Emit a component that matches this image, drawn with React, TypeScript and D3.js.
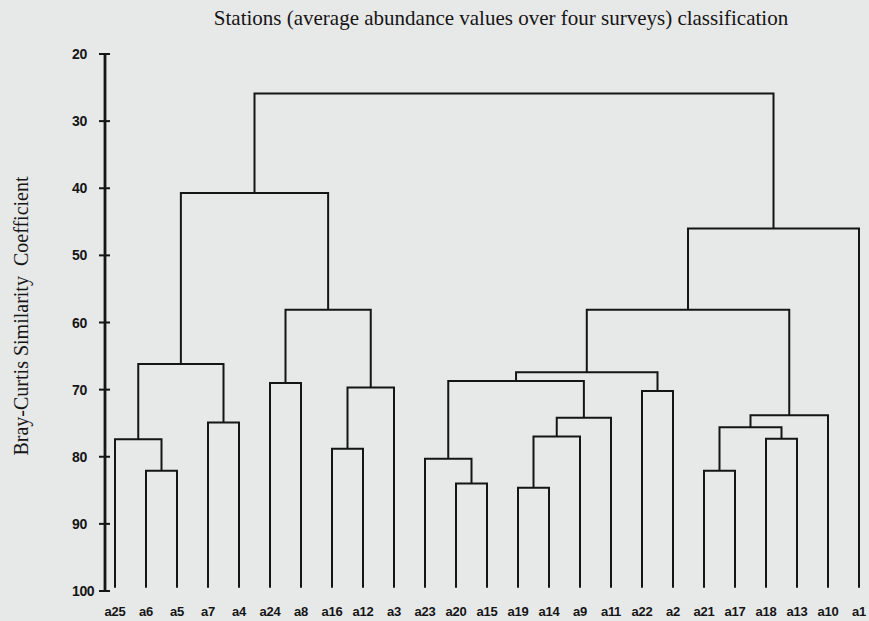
import React from "react";
import * as d3 from "d3";

// Stations in dendrogram (leaf) order
const stations = [
  "a25", "a6", "a5", "a7", "a4", "a24", "a8", "a16", "a12", "a3",
  "a23", "a20", "a15", "a19", "a14", "a9", "a11", "a22", "a2",
  "a21", "a17", "a18", "a13", "a10", "a1",
];

// Agglomeration steps: [left member, right member, similarity %]
// Members are station names or earlier cluster ids (c1, c2, ...)
const mergeLeft = [
  "a6", "a25", "a7", "c2", "a24", "a16", "c6", "c5", "c4",
  "a20", "a23", "a19", "c12", "c13", "c11", "a22", "c15",
  "a21", "a18", "c18", "c20", "c17", "c22", "c9",
];
const mergeRight = [
  "a5", "c1", "a4", "c3", "a8", "a12", "a3", "c7", "c8",
  "a15", "c10", "a14", "a9", "a11", "c14", "a2", "c16",
  "a17", "a13", "c19", "a10", "c21", "a1", "c23",
];
const mergeSimilarity = [
  82.1, 77.4, 74.9, 66.2, 69.0, 78.8, 69.7, 58.1, 40.7,
  84.0, 80.3, 84.6, 77.0, 74.2, 68.7, 70.2, 67.4,
  82.1, 77.3, 75.6, 73.8, 58.1, 46.0, 25.9,
];

const yTicks = [20, 30, 40, 50, 60, 70, 80, 90, 100];
const leafBase = 99.5;

const title = "Stations (average abundance values over four surveys) classification";
const yTitle = "Bray-Curtis Similarity  Coefficient";

const W = 869;
const H = 621;

export default function App() {
  const x = d3.scalePoint<string>().domain(stations).range([115, 859]);
  const y = d3.scaleLinear().domain([20, 100]).range([54, 591]);

  // Resolve each cluster to its horizontal centre and height
  const nodes: Record<string, { cx: number; h: number }> = {};
  stations.forEach((s) => (nodes[s] = { cx: x(s) as number, h: leafBase }));

  const links: string[] = [];
  mergeSimilarity.forEach((sim, i) => {
    const a = nodes[mergeLeft[i]];
    const b = nodes[mergeRight[i]];
    const yy = y(sim);
    const p = d3.path();
    p.moveTo(a.cx, y(a.h));
    p.lineTo(a.cx, yy);
    p.lineTo(b.cx, yy);
    p.lineTo(b.cx, y(b.h));
    links.push(p.toString());
    nodes["c" + (i + 1)] = { cx: (a.cx + b.cx) / 2, h: sim };
  });

  const axisX = 105;
  const sans = "'Liberation Sans', Arial, sans-serif";
  const serif = "'Liberation Serif', 'Times New Roman', serif";
  const ink = "#151515";

  return (
    <svg
      width={W}
      height={H}
      viewBox={`0 0 ${W} ${H}`}
      style={{ position: "fixed", left: 0, top: 0, display: "block" }}
    >
      <rect x={0} y={0} width={W} height={H} fill="#e7e8e8" />

      <text
        x={501}
        y={25}
        textAnchor="middle"
        fontFamily={serif}
        fontSize={21}
        fill={ink}
      >
        {title}
      </text>

      <text
        transform={`translate(28, ${316}) rotate(-90)`}
        textAnchor="middle"
        fontFamily={serif}
        fontSize={20}
        fill={ink}
        style={{ whiteSpace: "pre" }}
      >
        {yTitle}
      </text>

      {/* similarity axis */}
      <line
        x1={axisX}
        x2={axisX}
        y1={y(20)}
        y2={y(100)}
        stroke={ink}
        strokeWidth={2.8}
      />
      {yTicks.map((t) => (
        <g key={t}>
          <line
            x1={axisX - 6}
            x2={axisX + 5}
            y1={y(t)}
            y2={y(t)}
            stroke={ink}
            strokeWidth={2}
          />
          <text
            x={72}
            y={y(t)}
            dy="0.36em"
            textAnchor="start"
            fontFamily={sans}
            fontWeight={700}
            fontSize={14}
            letterSpacing={-0.4}
            fill={ink}
          >
            {t}
          </text>
        </g>
      ))}

      {/* dendrogram */}
      {links.map((d, i) => (
        <path key={i} d={d} fill="none" stroke={ink} strokeWidth={2} />
      ))}

      {stations.map((s) => (
        <text
          key={s}
          x={x(s)}
          y={616}
          textAnchor="middle"
          fontFamily={sans}
          fontWeight={700}
          fontSize={13}
          letterSpacing={-0.3}
          fill={ink}
        >
          {s}
        </text>
      ))}
    </svg>
  );
}
